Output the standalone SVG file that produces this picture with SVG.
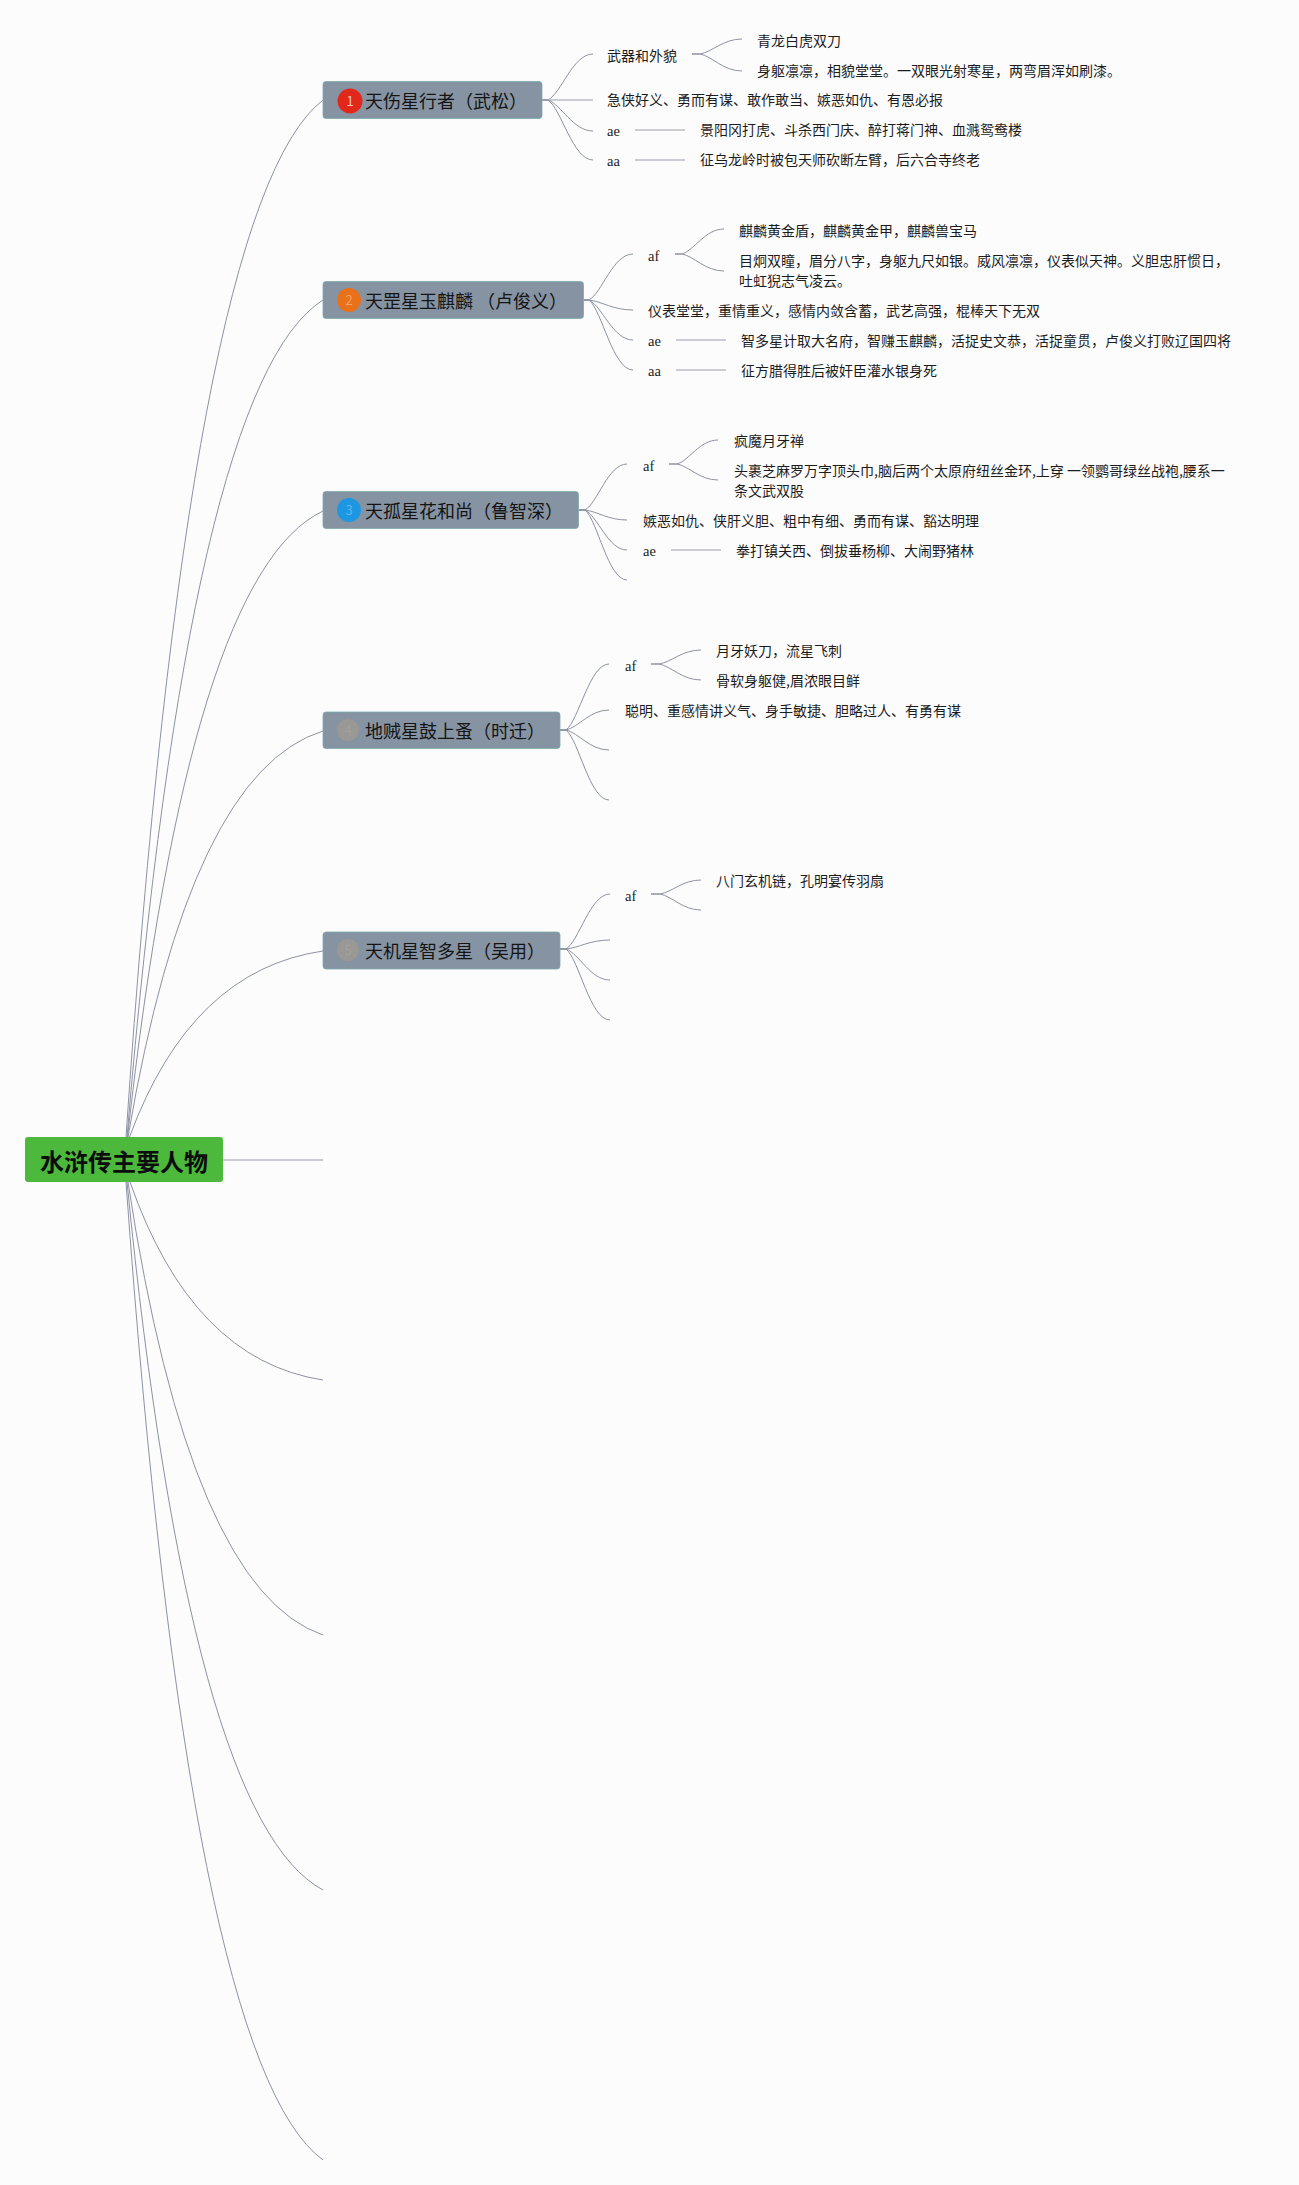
<svg xmlns="http://www.w3.org/2000/svg" width="1299" height="2185" viewBox="0 0 1299 2185">
<style>
text{font-family:"Noto Sans CJK SC","Liberation Sans",sans-serif;fill:#1c1c1c}
.leaf{font-size:14px}
.lat{font-family:"Liberation Serif","Noto Sans CJK SC",serif;font-size:14.5px}
.topic{font-size:18px;fill:#141414}
.box{fill:#8593a3;stroke:#7eaaa9;stroke-width:.8}
.num{font-size:13px;text-anchor:middle}
.curve{fill:none;stroke:#8d92a3;stroke-width:1}
.flat{fill:none;stroke:#bcbec6;stroke-width:1.5}
</style>
<rect width="1299" height="2185" fill="#fcfcfd"/>
<g id="connectors">
<path class="curve" d="M126 1137Q189 204 323 100"/>
<path class="curve" d="M127 1137Q190 384 323 300"/>
<path class="curve" d="M127.5 1137Q190 574 323 511"/>
<path class="curve" d="M128 1137Q190 772 323 731"/>
<path class="curve" d="M129.5 1137Q191 970 323 951"/>
<path class="curve" d="M130 1182Q192 1360 323 1380"/>
<path class="curve" d="M128 1182Q190 1590 323 1635"/>
<path class="curve" d="M127 1182Q190 1819 323 1890"/>
<path class="curve" d="M126 1182Q189 2062 323 2160"/>
<path class="flat" d="M223 1160H323"/>

<path class="curve" d="M542 100H548C561.5 93 572.8 54 593 54"/>
<path class="flat" d="M542 100H593"/>
<path class="curve" d="M542 100H548C561.5 104.6 572.8 131 593 131"/>
<path class="curve" d="M542 100H548C561.5 109 572.8 160 593 160"/>
<path class="curve" d="M692 54H700C712.6 51.8 723.1 39 742 39"/>
<path class="curve" d="M692 54H700C712.6 56.5 723.1 71 742 71"/>
<path class="flat" d="M635 130H685"/>
<path class="flat" d="M635 160H685"/>

<path class="curve" d="M584 300H589C602 293 613 254 633 254"/>
<path class="curve" d="M584 300H589C602 301.5 613 310 633 310"/>
<path class="curve" d="M584 300H589C602 306 613 340 633 340"/>
<path class="curve" d="M584 300H589C602 310.5 613 370 633 370"/>
<path class="curve" d="M675 254H682C694.6 250 705.1 229 724 229"/>
<path class="curve" d="M675 254H682C694.6 256.5 705.1 271 724 271"/>
<path class="flat" d="M676 340H726"/>
<path class="flat" d="M676 370H726"/>

<path class="curve" d="M579 510H585C597.6 503 608.1 464 627 464"/>
<path class="curve" d="M579 510H585C597.6 511.5 608.1 520 627 520"/>
<path class="curve" d="M579 510H585C597.6 516 608.1 550 627 550"/>
<path class="curve" d="M579 510H585C597.6 520.5 608.1 580 627 580"/>
<path class="curve" d="M669 464H677C689.3 460.4 699.6 440 718 440"/>
<path class="curve" d="M669 464H677C689.3 466.4 699.6 480 718 480"/>
<path class="flat" d="M671 550H721"/>

<path class="curve" d="M560 730H566C579 720 589.7 664 609 664"/>
<path class="curve" d="M560 730H566C579 727 589.7 710 609 710"/>
<path class="curve" d="M560 730H566C579 733 589.7 750 609 750"/>
<path class="curve" d="M560 730H566C579 740.5 589.7 800 609 800"/>
<path class="curve" d="M651 664H659C671.6 662 682.1 650 701 650"/>
<path class="curve" d="M651 664H659C671.6 666.4 682.1 680 701 680"/>

<path class="curve" d="M560 949H566C579.2 941 590.2 894 610 894"/>
<path class="curve" d="M560 949H566C579.2 947.6 590.2 940 610 940"/>
<path class="curve" d="M560 949H566C579.2 953.6 590.2 980 610 980"/>
<path class="curve" d="M560 949H566C579.2 959.6 590.2 1020 610 1020"/>
<path class="curve" d="M651 894H660C672.3 892 682.6 880 701 880"/>
<path class="curve" d="M651 894H660C672.3 896.4 682.6 910 701 910"/>
</g>

<g id="root">
<rect x="25" y="1137" width="198" height="45" rx="3" fill="#4cb93c"/>
<text x="40" y="1171" font-size="24" font-weight="700" style="fill:#0c0c0c">水浒传主要人物</text>
</g>

<g id="node-wusong">
<rect class="box" x="323" y="81.5" width="219" height="37" rx="3"/>
<circle cx="350" cy="101" r="12.5" fill="#e2281a"/>
<text class="num" x="350" y="105.5" style="fill:#f6c4b8">1</text>
<text class="topic" x="365" y="107.5">天伤星行者（武松）</text>
</g>
<g id="wusong-leaves">
<text class="leaf" x="607" y="61">武器和外貌</text>
<text class="leaf" x="757" y="46">青龙白虎双刀</text>
<text class="leaf" x="757" y="76">身躯凛凛，相貌堂堂。一双眼光射寒星，两弯眉浑如刷漆。</text>
<text class="leaf" x="607" y="105">急侠好义、勇而有谋、敢作敢当、嫉恶如仇、有恩必报</text>
<text class="lat" x="607" y="136">ae</text>
<text class="leaf" x="700" y="135">景阳冈打虎、斗杀西门庆、醉打蒋门神、血溅鸳鸯楼</text>
<text class="lat" x="607" y="166">aa</text>
<text class="leaf" x="700" y="165">征乌龙岭时被包天师砍断左臂，后六合寺终老</text>
</g>

<g id="node-lujunyi">
<rect class="box" x="323" y="281.5" width="260.5" height="37" rx="3"/>
<circle cx="349" cy="300" r="12" fill="#e8711a"/>
<text class="num" x="349" y="304.5" style="fill:#f2a468">2</text>
<text class="topic" x="365" y="308">天罡星玉麒麟 （卢俊义）</text>
</g>
<g id="lujunyi-leaves">
<text class="lat" x="648" y="261">af</text>
<text class="leaf" x="739" y="236">麒麟黄金盾，麒麟黄金甲，麒麟兽宝马</text>
<text class="leaf" x="739" y="266">目炯双瞳，眉分八字，身躯九尺如银。威风凛凛，仪表似天神。义胆忠肝惯日，</text>
<text class="leaf" x="739" y="286">吐虹猊志气凌云。</text>
<text class="leaf" x="648" y="316">仪表堂堂，重情重义，感情内敛含蓄，武艺高强，棍棒天下无双</text>
<text class="lat" x="648" y="346">ae</text>
<text class="leaf" x="741" y="346">智多星计取大名府，智赚玉麒麟，活捉史文恭，活捉童贯，卢俊义打败辽国四将</text>
<text class="lat" x="648" y="376">aa</text>
<text class="leaf" x="741" y="376">征方腊得胜后被奸臣灌水银身死</text>
</g>

<g id="node-luzhishen">
<rect class="box" x="323" y="491.5" width="255.5" height="37" rx="3"/>
<circle cx="349" cy="510" r="12" fill="#1e97e2"/>
<text class="num" x="349" y="514.5" style="fill:#5cb6ec">3</text>
<text class="topic" x="365" y="518">天孤星花和尚（鲁智深）</text>
</g>
<g id="luzhishen-leaves">
<text class="lat" x="643" y="471">af</text>
<text class="leaf" x="734" y="446">疯魔月牙禅</text>
<text class="leaf" x="734" y="476">头裹芝麻罗万字顶头巾,脑后两个太原府纽丝金环,上穿 一领鹦哥绿丝战袍,腰系一</text>
<text class="leaf" x="734" y="496">条文武双股</text>
<text class="leaf" x="643" y="526">嫉恶如仇、侠肝义胆、粗中有细、勇而有谋、豁达明理</text>
<text class="lat" x="643" y="556">ae</text>
<text class="leaf" x="736" y="556">拳打镇关西、倒拔垂杨柳、大闹野猪林</text>
</g>

<g id="node-shiqian">
<rect class="box" x="323" y="712" width="237" height="36.5" rx="3"/>
<circle cx="348" cy="730" r="11" fill="#9a9895"/>
<text class="num" x="348" y="734.5" style="fill:#a3a19e">4</text>
<text class="topic" x="365" y="738">地贼星鼓上蚤（时迁）</text>
</g>
<g id="shiqian-leaves">
<text class="lat" x="625" y="671">af</text>
<text class="leaf" x="716" y="656">月牙妖刀，流星飞刺</text>
<text class="leaf" x="716" y="686">骨软身躯健,眉浓眼目鲜</text>
<text class="leaf" x="625" y="716">聪明、重感情讲义气、身手敏捷、胆略过人、有勇有谋</text>
</g>

<g id="node-wuyong">
<rect class="box" x="323" y="932" width="237" height="37" rx="3"/>
<circle cx="348" cy="950" r="11" fill="#9a9895"/>
<text class="num" x="348" y="954.5" style="fill:#a3a19e">5</text>
<text class="topic" x="365" y="957.5">天机星智多星（吴用）</text>
</g>
<g id="wuyong-leaves">
<text class="lat" x="625" y="901">af</text>
<text class="leaf" x="716" y="886">八门玄机链，孔明宴传羽扇</text>
</g>
</svg>
